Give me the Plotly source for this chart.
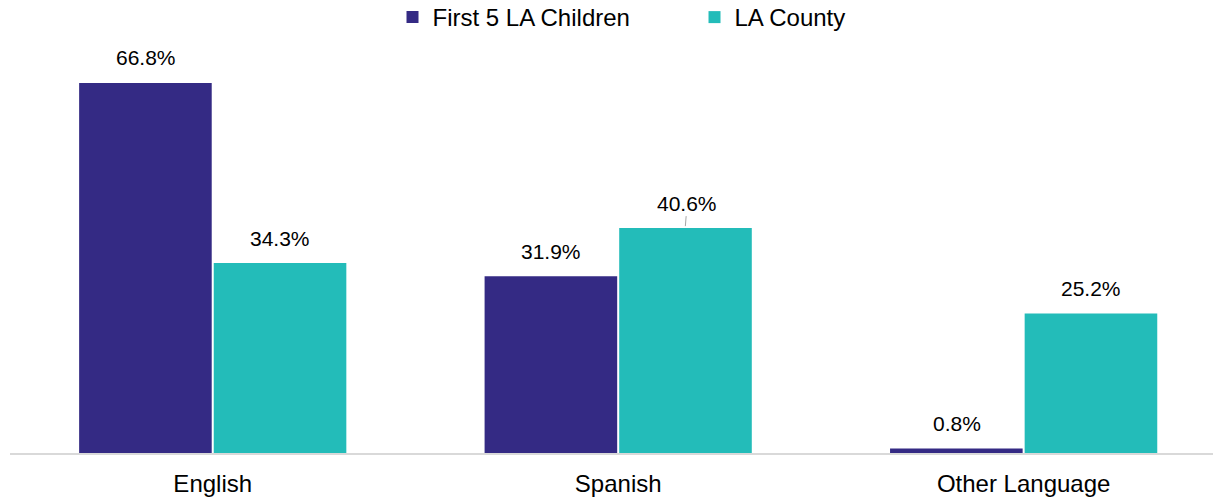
import plotly.graph_objects as go

categories = ["English", "Spanish", "Other Language"]
first5 = [66.8, 31.9, 0.8]
county = [34.3, 40.6, 25.2]
series_names = ["First 5 LA Children", "LA County"]
colors = ["#342A84", "#23BCB9"]

FONT = "Liberation Sans, Arial, sans-serif"

fig = go.Figure()
for name, vals, col in zip(series_names, [first5, county], colors):
    fig.add_trace(go.Bar(x=categories, y=vals, name=name, marker_color=col,
                         marker_line_width=0, hoverinfo="skip"))

annotations = []
for shift, vals in zip([-67, 67], [first5, county]):
    for c, v in zip(categories, vals):
        lead = (c == "Spanish" and shift > 0)
        annotations.append(dict(
            x=c, y=v, xref="x", yref="y", xshift=shift,
            text=f"{v:.1f}%", showarrow=lead,
            arrowhead=0, arrowcolor="#a6a6a6", arrowwidth=1, standoff=2,
            ax=2 if lead else 0, ay=-25 if lead else 0,
            yshift=0 if lead else 25, yanchor="middle",
            font=dict(family=FONT, size=21, color="#000000")))

fig.update_layout(
    width=1213, height=497,
    margin=dict(l=10, r=0, t=0, b=44, autoexpand=False),
    paper_bgcolor="white", plot_bgcolor="white",
    barmode="group", bargap=0.336, bargroupgap=0.015,
    font=dict(family=FONT, color="#000000"),
    legend=dict(orientation="h", x=0.569, xanchor="center",
                y=1.011, yanchor="top",
                font=dict(family=FONT, size=24, color="#000000"),
                entrywidth=257, itemwidth=30, traceorder="normal",
                bgcolor="rgba(0,0,0,0)"),
    xaxis=dict(range=[-0.5, 2.467], showgrid=False, zeroline=False,
               showline=True, linecolor="#d9d9d9", linewidth=2,
               ticks="", ticklabelstandoff=8, automargin=False,
               tickfont=dict(family=FONT, size=24, color="#000000")),
    yaxis=dict(range=[0, 81.78], showgrid=False, zeroline=False,
               showticklabels=False, showline=False, ticks="", automargin=False),
    annotations=annotations,
)
fig.write_html("out.html")
